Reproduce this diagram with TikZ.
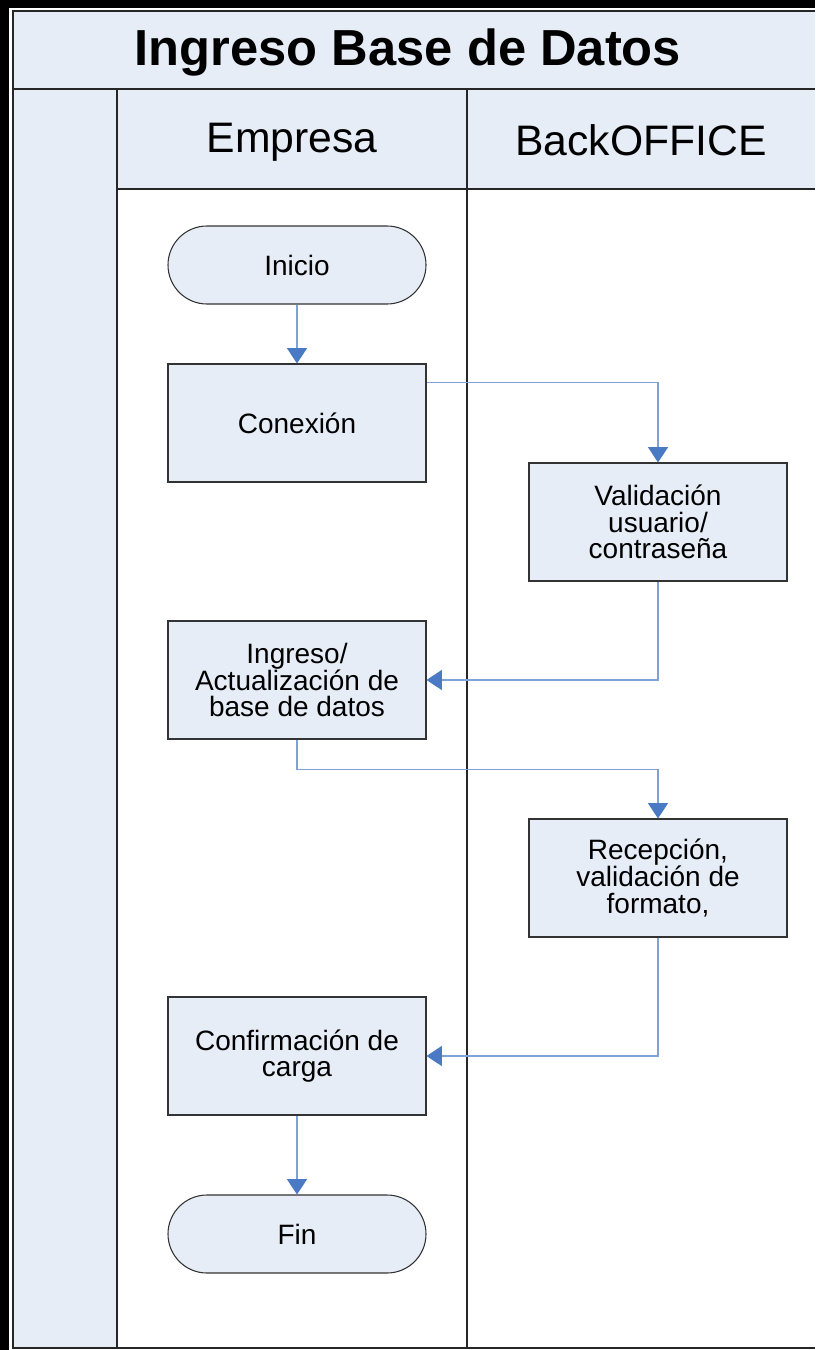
\documentclass[tikz,border=0pt]{standalone}
\usepackage{fontspec}
\setmainfont{Liberation Sans}
\usetikzlibrary{arrows.meta,calc}

\definecolor{paleblue}{HTML}{E6EDF7}
\definecolor{flowblue}{HTML}{4A7AC4}
\definecolor{lineblue}{HTML}{7EA2D8}

\begin{document}
\begin{tikzpicture}[x=0.75pt,y=-0.75pt,
  box/.style={draw=black!80,fill=paleblue,line width=0.8pt,minimum width=193.5pt,minimum height=88.5pt,
    align=center,font=\fontsize{21}{20}\selectfont},
  term/.style={box,rounded corners=29.25pt,minimum height=58.5pt},
  flow/.style={draw=lineblue,line width=0.8pt,-{Triangle[width=15pt,length=11.5pt,color=flowblue]}},
  frame/.style={draw=black!85,line width=1.5pt}]
\useasboundingbox (0,0) rectangle (815,1350);
% pool and lanes
\fill[black] (0,0) rectangle (9,1350);
\fill[black] (0,0) rectangle (815,8);
\fill[paleblue] (13,11) rectangle (815,89);
\fill[paleblue] (13,89) rectangle (117,1348);
\fill[paleblue] (117,89) rectangle (815,189);
\draw[frame] (815,11) -- (13,11) -- (13,1348) -- (815,1348);
\draw[frame] (13,89) -- (815,89);
\draw[frame] (117,89) -- (117,1348);
\draw[frame] (467,89) -- (467,1348);
\draw[frame] (117,189) -- (815,189);
\node (titulo) at (408,53) {\fontsize{38}{40}\selectfont\bfseries Ingreso Base de Datos};
\node (empresa) at (292,142) {\fontsize{32}{34}\selectfont Empresa};
\node (backoffice) at (641,140) {\fontsize{32}{34}\selectfont BackOFFICE};
% steps
\node[term] (inicio) at (297,265) {Inicio};
\node[box] (conexion) at (297,423) {Conexión};
\node[box] (validacion) at (658,522) {Validación\\usuario/\\contraseña};
\node[box] (ingreso) at (297,680) {Ingreso/\\Actualización de\\base de datos};
\node[box] (recepcion) at (658,878) {Recepción,\\validación de\\formato,};
\node[box] (confirmacion) at (297,1056) {Confirmación de\\carga};
\node[term] (fin) at (297,1234) {Fin};
\coordinate (cx) at ($(conexion.north east)+(0,19)$);
% flow
\draw[flow] (inicio) -- (conexion);
\draw[flow] (cx) -| (validacion);
\draw[flow] (validacion) |- (ingreso);
\draw[flow] (ingreso.south) -- ++(0,30) -| (recepcion.north);
\draw[flow] (recepcion) |- (confirmacion);
\draw[flow] (confirmacion) -- (fin);
\end{tikzpicture}
\end{document}
